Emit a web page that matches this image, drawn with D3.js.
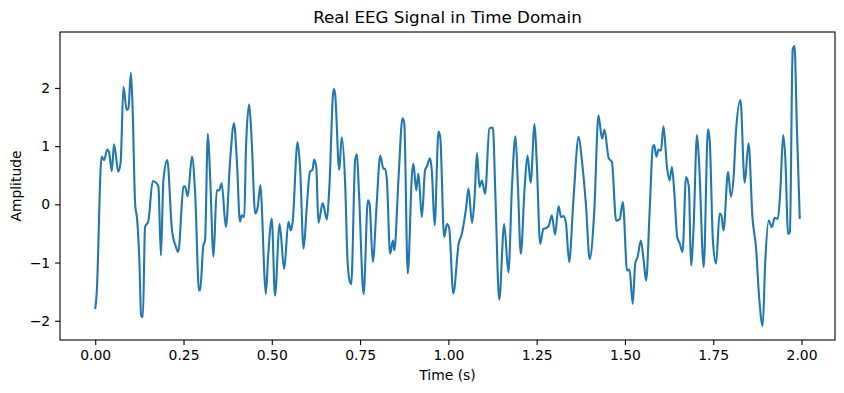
<!DOCTYPE html>
<html>
<head>
<meta charset="utf-8">
<script src="https://cdn.jsdelivr.net/npm/d3@7"></script>
<style>
  body { margin: 0; background: #fff; }
  text { font-family: "DejaVu Sans", sans-serif; fill: #000; }
</style>
</head>
<body>
<div id="container"></div>
<script>
// time (s) of each read sample
var timeS = [
  0.000, 0.004, 0.018, 0.025, 0.034, 0.039, 0.047, 0.053, 0.059, 0.065,
  0.072, 0.080, 0.089, 0.094, 0.101, 0.106, 0.113, 0.119, 0.125, 0.130,
  0.135, 0.141, 0.150, 0.163, 0.174, 0.179, 0.186, 0.193, 0.204, 0.217,
  0.229, 0.235, 0.250, 0.254, 0.262, 0.274, 0.283, 0.294, 0.297, 0.306,
  0.311, 0.319, 0.325, 0.335, 0.344, 0.351, 0.358, 0.370, 0.382, 0.393,
  0.401, 0.410, 0.415, 0.422, 0.427, 0.436, 0.443, 0.453, 0.460, 0.468,
  0.473, 0.478, 0.483, 0.490, 0.500, 0.509, 0.522, 0.535, 0.547, 0.554,
  0.559, 0.573, 0.580, 0.590, 0.599, 0.608, 0.615, 0.620, 0.626, 0.632,
  0.644, 0.656, 0.663, 0.675, 0.679, 0.691, 0.698, 0.708, 0.714, 0.720,
  0.725, 0.736, 0.741, 0.747, 0.760, 0.772, 0.777, 0.786, 0.797, 0.807,
  0.816, 0.821, 0.826, 0.835, 0.843, 0.847, 0.859, 0.870, 0.875, 0.885,
  0.897, 0.901, 0.909, 0.915, 0.925, 0.934, 0.939, 0.948, 0.953, 0.961,
  0.972, 0.977, 0.988, 0.996, 1.002, 1.014, 1.029, 1.038, 1.050, 1.057,
  1.067, 1.074, 1.081, 1.088, 1.095, 1.104, 1.116, 1.126, 1.133, 1.144,
  1.158, 1.170, 1.180, 1.190, 1.197, 1.205, 1.216, 1.224, 1.233, 1.244,
  1.250, 1.260, 1.269, 1.276, 1.284, 1.293, 1.302, 1.312, 1.319, 1.326,
  1.333, 1.342, 1.354, 1.369, 1.378, 1.390, 1.400, 1.413, 1.425, 1.435,
  1.442, 1.454, 1.463, 1.475, 1.485, 1.494, 1.506, 1.513, 1.522, 1.529,
  1.536, 1.545, 1.553, 1.560, 1.570, 1.579, 1.583, 1.589, 1.595, 1.602,
  1.609, 1.619, 1.626, 1.633, 1.640, 1.648, 1.655, 1.663, 1.673, 1.681,
  1.687, 1.694, 1.704, 1.710, 1.723, 1.735, 1.740, 1.749, 1.758, 1.768,
  1.773, 1.779, 1.792, 1.800, 1.808, 1.814, 1.827, 1.839, 1.850, 1.861,
  1.871, 1.880, 1.890, 1.897, 1.907, 1.916, 1.924, 1.933, 1.940, 1.948,
  1.954, 1.962, 1.967, 1.975, 1.980, 1.987, 1.995
];

// amplitude
var amplitude = [
  -1.80, -1.54, 0.82, 0.76, 0.94, 0.90, 0.57, 1.03, 0.82, 0.56,
  0.73, 2.02, 1.62, 1.65, 2.26, 1.62, 0.01, -0.28, -0.97, -1.91,
  -1.94, -0.39, -0.30, 0.40, 0.36, 0.30, -0.88, 0.41, 0.76, -0.42,
  -0.74, -0.82, 0.30, 0.31, 0.14, 0.82, 0.18, -1.48, -1.48, -0.71,
  -0.62, 1.21, 0.53, -0.90, 0.24, 0.24, 0.36, -0.39, 0.76, 1.39,
  0.76, -0.30, -0.19, -0.22, 0.99, 1.72, 1.10, -0.16, -0.05, 0.33,
  -0.22, -1.08, -1.54, -0.85, -0.25, -1.57, -0.34, -1.11, -0.30, -0.45,
  -0.30, 1.07, 0.64, -0.76, -0.05, 0.56, 0.59, 0.77, 0.64, -0.32,
  0.02, -0.26, 0.30, 1.98, 1.91, 0.59, 1.15, 0.30, -0.91, -1.31,
  -1.37, 0.76, 0.86, 0.18, -1.54, 0.07, 0.00, -0.99, 0.01, 0.84,
  0.61, 0.61, 0.41, -0.85, -0.62, -0.79, 0.47, 1.48, 1.40, -1.19,
  0.53, 0.70, 0.24, 0.53, -0.22, 0.59, 0.65, 0.79, 0.59, -0.36,
  1.25, 1.15, -0.56, -0.34, -0.40, -1.53, -0.68, -0.51, -0.07, 0.27,
  -0.32, 0.10, 0.88, 0.30, 0.41, 0.18, 1.30, 1.32, 0.18, -1.64,
  -0.34, -1.17, 0.30, 1.17, 0.30, -0.85, 0.30, 0.84, 0.37, 1.38,
  0.76, -0.68, -0.42, -0.41, -0.37, -0.19, -0.52, -0.03, -0.22, -0.20,
  -0.33, -0.99, 0.07, 1.16, 0.76, -0.05, -0.94, -0.13, 1.53, 1.13,
  1.28, 0.79, 0.73, -0.28, -0.26, 0.04, -1.14, -1.12, -1.71, -1.02,
  -0.90, -0.62, -0.97, -1.31, -0.10, 0.99, 1.02, 0.82, 0.94, 0.92,
  1.34, 0.64, 0.41, 0.64, 0.18, -0.56, -0.67, -0.82, 0.47, 0.30,
  -1.05, -0.45, 1.19, 0.70, -1.08, 1.29, 1.10, -0.62, -1.02, -0.16,
  -0.19, -0.45, 0.56, 0.13, 0.50, 1.22, 1.79, 0.37, 1.05, -0.22,
  -0.74, -1.60, -2.09, -1.02, -0.28, -0.39, -0.23, -0.25, 0.24, 1.19,
  0.80, -0.51, -0.48, 2.66, 2.72, 1.28, -0.25
];

var xTicks = [0, 0.25, 0.5, 0.75, 1.0, 1.25, 1.5, 1.75, 2.0];
var yTicks = [-2, -1, 0, 1, 2];

var titleText = "Real EEG Signal in Time Domain";
var xLabel = "Time (s)";
var yLabel = "Amplitude";

var W = 844, H = 393;
var margin = { top: 32, right: 9, bottom: 53, left: 60 },
  width = W - margin.left - margin.right,
  height = H - margin.top - margin.bottom;

var data = timeS.map(function (t, i) { return { t: t, v: amplitude[i] }; });

// matplotlib style 5% margins
var xExt = d3.extent(timeS), yExt = d3.extent(amplitude);
var xPad = (xExt[1] - xExt[0]) * 0.05, yPad = (yExt[1] - yExt[0]) * 0.05;

var x = d3.scaleLinear().domain([xExt[0] - xPad, xExt[1] + xPad]).range([0, width]);
var y = d3.scaleLinear().domain([yExt[0] - yPad, yExt[1] + yPad]).range([height, 0]);

var svg = d3.select("#container").append("svg")
  .attr("width", W)
  .attr("height", H);

var g = svg.append("g")
  .attr("transform", "translate(" + margin.left + "," + margin.top + ")");

var line = d3.line()
  .x(function (d) { return x(d.t); })
  .y(function (d) { return y(d.v); })
  .curve(d3.curveMonotoneX);

g.append("path")
  .datum(data)
  .attr("fill", "none")
  .attr("stroke", "#1f77b4")
  .attr("stroke-width", 2.1)
  .attr("stroke-linejoin", "round")
  .attr("d", line);

// axes
var xAxis = d3.axisBottom(x).tickValues(xTicks).tickFormat(d3.format(".2f"))
  .tickSize(4.9).tickPadding(4.9).tickSizeOuter(0);
var yAxis = d3.axisLeft(y).tickValues(yTicks).tickFormat(d3.format("d"))
  .tickSize(4.9).tickPadding(4.9).tickSizeOuter(0);

var gx = g.append("g").attr("transform", "translate(0," + height + ")").call(xAxis);
var gy = g.append("g").call(yAxis);

[gx, gy].forEach(function (a) {
  a.select(".domain").remove();
  a.selectAll("line").attr("stroke", "#000").attr("stroke-width", 1.1);
  a.selectAll("text").style("font-size", "13.9px").attr("font-family", "DejaVu Sans");
});

// frame
g.append("rect")
  .attr("x", 0).attr("y", 0)
  .attr("width", width).attr("height", height)
  .attr("fill", "none")
  .attr("stroke", "#000")
  .attr("stroke-width", 1.1);

// title and labels
svg.append("text")
  .attr("x", margin.left + width / 2)
  .attr("y", margin.top - 8.8)
  .attr("text-anchor", "middle")
  .style("font-size", "16.7px")
  .text(titleText);

svg.append("text")
  .attr("x", margin.left + width / 2)
  .attr("y", 380)
  .attr("text-anchor", "middle")
  .style("font-size", "13.9px")
  .text(xLabel);

svg.append("text")
  .attr("transform", "translate(21," + (margin.top + height / 2) + ") rotate(-90)")
  .attr("text-anchor", "middle")
  .style("font-size", "13.9px")
  .text(yLabel);
</script>
</body>
</html>
